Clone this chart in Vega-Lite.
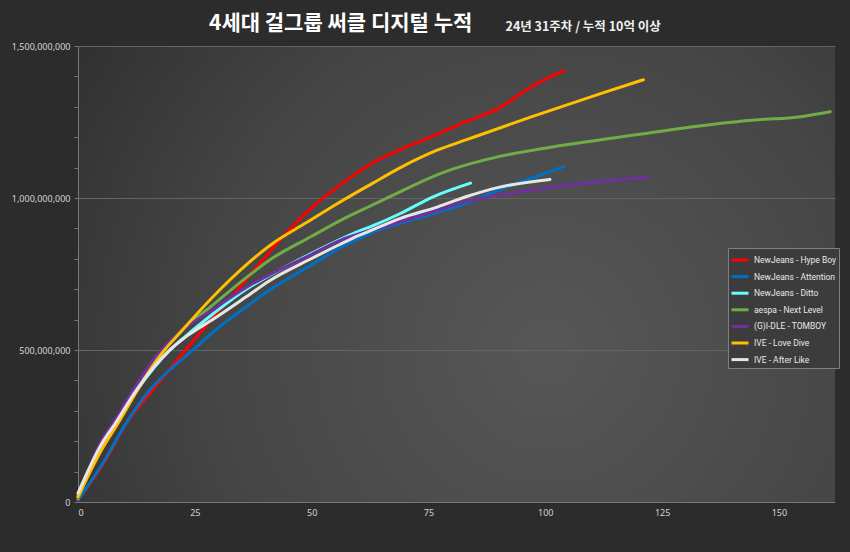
{
  "$schema": "https://vega.github.io/schema/vega-lite/v6.json",
  "width": 757,
  "height": 456,
  "autosize": {"type": "none"},
  "padding": {"left": 78, "top": 46, "right": 15, "bottom": 50},
  "background": "#2c2c2c",
  "title": {
    "text": "4세대 걸그룹 써클 디지털 누적",
    "anchor": "start",
    "frame": "group",
    "dx": 131,
    "offset": -14,
    "font": "Noto Sans CJK KR",
    "fontSize": 21,
    "fontWeight": "bold",
    "color": "#ffffff"
  },
  "config": {
    "view": {
      "stroke": null,
      "fill": {
        "gradient": "radial",
        "x1": 0.62, "y1": 0.6, "r1": 0,
        "x2": 0.62, "y2": 0.6, "r2": 0.75,
        "stops": [
          {"offset": 0, "color": "#575757"},
          {"offset": 0.6, "color": "#454545"},
          {"offset": 1, "color": "#303030"}
        ]
      }
    },
    "axis": {
      "labelFont": "Noto Sans",
      "labelFontSize": 9,
      "labelColor": "#d4d4d4",
      "domainColor": "#777777",
      "tickColor": "#777777",
      "title": null
    },
    "legend": {
      "orient": "none",
      "legendX": 650,
      "legendY": 202,
      "strokeColor": "#808080",
      "fillColor": "#3c3c3c",
      "padding": 2,
      "labelFont": "Roboto",
      "labelFontSize": 8.5,
      "labelColor": "#e8e8e8",
      "symbolType": "stroke",
      "symbolStrokeWidth": 3,
      "symbolSize": 289,
      "rowPadding": 0.6,
      "labelOffset": 4
    }
  },
  "data": {
    "values": [
      {"song": "NewJeans - Hype Boy", "week": 0, "value": 7000000},
      {"song": "NewJeans - Hype Boy", "week": 6, "value": 140000000},
      {"song": "NewJeans - Hype Boy", "week": 10, "value": 250000000},
      {"song": "NewJeans - Hype Boy", "week": 16, "value": 368000000},
      {"song": "NewJeans - Hype Boy", "week": 23, "value": 500000000},
      {"song": "NewJeans - Hype Boy", "week": 29, "value": 609000000},
      {"song": "NewJeans - Hype Boy", "week": 36, "value": 732000000},
      {"song": "NewJeans - Hype Boy", "week": 43, "value": 858000000},
      {"song": "NewJeans - Hype Boy", "week": 50, "value": 968000000},
      {"song": "NewJeans - Hype Boy", "week": 57, "value": 1053000000},
      {"song": "NewJeans - Hype Boy", "week": 63, "value": 1115000000},
      {"song": "NewJeans - Hype Boy", "week": 70, "value": 1166000000},
      {"song": "NewJeans - Hype Boy", "week": 76, "value": 1204000000},
      {"song": "NewJeans - Hype Boy", "week": 83, "value": 1251000000},
      {"song": "NewJeans - Hype Boy", "week": 90, "value": 1295000000},
      {"song": "NewJeans - Hype Boy", "week": 97, "value": 1366000000},
      {"song": "NewJeans - Hype Boy", "week": 104, "value": 1419000000},

      {"song": "NewJeans - Attention", "week": 0, "value": 7000000},
      {"song": "NewJeans - Attention", "week": 6, "value": 145000000},
      {"song": "NewJeans - Attention", "week": 10, "value": 252000000},
      {"song": "NewJeans - Attention", "week": 15, "value": 362000000},
      {"song": "NewJeans - Attention", "week": 20, "value": 440000000},
      {"song": "NewJeans - Attention", "week": 25, "value": 505000000},
      {"song": "NewJeans - Attention", "week": 29, "value": 560000000},
      {"song": "NewJeans - Attention", "week": 36, "value": 642000000},
      {"song": "NewJeans - Attention", "week": 41, "value": 697000000},
      {"song": "NewJeans - Attention", "week": 50, "value": 780000000},
      {"song": "NewJeans - Attention", "week": 56, "value": 835000000},
      {"song": "NewJeans - Attention", "week": 60, "value": 865000000},
      {"song": "NewJeans - Attention", "week": 63, "value": 887000000},
      {"song": "NewJeans - Attention", "week": 69, "value": 917000000},
      {"song": "NewJeans - Attention", "week": 76, "value": 949000000},
      {"song": "NewJeans - Attention", "week": 83, "value": 982000000},
      {"song": "NewJeans - Attention", "week": 90, "value": 1026000000},
      {"song": "NewJeans - Attention", "week": 97, "value": 1065000000},
      {"song": "NewJeans - Attention", "week": 104, "value": 1103000000},

      {"song": "NewJeans - Ditto", "week": 0, "value": 20000000},
      {"song": "NewJeans - Ditto", "week": 5, "value": 185000000},
      {"song": "NewJeans - Ditto", "week": 8, "value": 258000000},
      {"song": "NewJeans - Ditto", "week": 12.5, "value": 365000000},
      {"song": "NewJeans - Ditto", "week": 19.7, "value": 500000000},
      {"song": "NewJeans - Ditto", "week": 23, "value": 545000000},
      {"song": "NewJeans - Ditto", "week": 29, "value": 620000000},
      {"song": "NewJeans - Ditto", "week": 36, "value": 700000000},
      {"song": "NewJeans - Ditto", "week": 41, "value": 745000000},
      {"song": "NewJeans - Ditto", "week": 50, "value": 818000000},
      {"song": "NewJeans - Ditto", "week": 60, "value": 890000000},
      {"song": "NewJeans - Ditto", "week": 63, "value": 908000000},
      {"song": "NewJeans - Ditto", "week": 69, "value": 949000000},
      {"song": "NewJeans - Ditto", "week": 76, "value": 1004000000},
      {"song": "NewJeans - Ditto", "week": 84, "value": 1049000000},

      {"song": "aespa - Next Level", "week": 0, "value": 10000000},
      {"song": "aespa - Next Level", "week": 5, "value": 185000000},
      {"song": "aespa - Next Level", "week": 8, "value": 262000000},
      {"song": "aespa - Next Level", "week": 12.5, "value": 370000000},
      {"song": "aespa - Next Level", "week": 18, "value": 495000000},
      {"song": "aespa - Next Level", "week": 22, "value": 560000000},
      {"song": "aespa - Next Level", "week": 29, "value": 650000000},
      {"song": "aespa - Next Level", "week": 36, "value": 738000000},
      {"song": "aespa - Next Level", "week": 41, "value": 796000000},
      {"song": "aespa - Next Level", "week": 50, "value": 874000000},
      {"song": "aespa - Next Level", "week": 56, "value": 925000000},
      {"song": "aespa - Next Level", "week": 63, "value": 977000000},
      {"song": "aespa - Next Level", "week": 69, "value": 1021000000},
      {"song": "aespa - Next Level", "week": 77, "value": 1077000000},
      {"song": "aespa - Next Level", "week": 80, "value": 1094000000},
      {"song": "aespa - Next Level", "week": 90, "value": 1136000000},
      {"song": "aespa - Next Level", "week": 104, "value": 1174000000},
      {"song": "aespa - Next Level", "week": 119, "value": 1207000000},
      {"song": "aespa - Next Level", "week": 133, "value": 1237000000},
      {"song": "aespa - Next Level", "week": 147, "value": 1259000000},
      {"song": "aespa - Next Level", "week": 152, "value": 1263000000},
      {"song": "aespa - Next Level", "week": 161, "value": 1284000000},

      {"song": "(G)I-DLE - TOMBOY", "week": 0, "value": 15000000},
      {"song": "(G)I-DLE - TOMBOY", "week": 5, "value": 200000000},
      {"song": "(G)I-DLE - TOMBOY", "week": 8, "value": 270000000},
      {"song": "(G)I-DLE - TOMBOY", "week": 12, "value": 372000000},
      {"song": "(G)I-DLE - TOMBOY", "week": 17, "value": 485000000},
      {"song": "(G)I-DLE - TOMBOY", "week": 23, "value": 572000000},
      {"song": "(G)I-DLE - TOMBOY", "week": 29, "value": 635000000},
      {"song": "(G)I-DLE - TOMBOY", "week": 36, "value": 706000000},
      {"song": "(G)I-DLE - TOMBOY", "week": 42, "value": 755000000},
      {"song": "(G)I-DLE - TOMBOY", "week": 49, "value": 807000000},
      {"song": "(G)I-DLE - TOMBOY", "week": 56, "value": 860000000},
      {"song": "(G)I-DLE - TOMBOY", "week": 63, "value": 895000000},
      {"song": "(G)I-DLE - TOMBOY", "week": 70, "value": 927000000},
      {"song": "(G)I-DLE - TOMBOY", "week": 77, "value": 960000000},
      {"song": "(G)I-DLE - TOMBOY", "week": 83, "value": 988000000},
      {"song": "(G)I-DLE - TOMBOY", "week": 97, "value": 1026000000},
      {"song": "(G)I-DLE - TOMBOY", "week": 112, "value": 1054000000},
      {"song": "(G)I-DLE - TOMBOY", "week": 122, "value": 1068000000},

      {"song": "IVE - Love Dive", "week": 0, "value": 17000000},
      {"song": "IVE - Love Dive", "week": 5, "value": 170000000},
      {"song": "IVE - Love Dive", "week": 9, "value": 270000000},
      {"song": "IVE - Love Dive", "week": 13, "value": 375000000},
      {"song": "IVE - Love Dive", "week": 18, "value": 490000000},
      {"song": "IVE - Love Dive", "week": 22, "value": 560000000},
      {"song": "IVE - Love Dive", "week": 29, "value": 677000000},
      {"song": "IVE - Love Dive", "week": 36, "value": 780000000},
      {"song": "IVE - Love Dive", "week": 41, "value": 843000000},
      {"song": "IVE - Love Dive", "week": 49, "value": 920000000},
      {"song": "IVE - Love Dive", "week": 56, "value": 986000000},
      {"song": "IVE - Love Dive", "week": 63, "value": 1048000000},
      {"song": "IVE - Love Dive", "week": 69, "value": 1100000000},
      {"song": "IVE - Love Dive", "week": 77, "value": 1158000000},
      {"song": "IVE - Love Dive", "week": 83, "value": 1191000000},
      {"song": "IVE - Love Dive", "week": 97, "value": 1267000000},
      {"song": "IVE - Love Dive", "week": 112, "value": 1344000000},
      {"song": "IVE - Love Dive", "week": 121, "value": 1389000000},

      {"song": "IVE - After Like", "week": 0, "value": 29000000},
      {"song": "IVE - After Like", "week": 5, "value": 190000000},
      {"song": "IVE - After Like", "week": 8, "value": 259000000},
      {"song": "IVE - After Like", "week": 12.5, "value": 368000000},
      {"song": "IVE - After Like", "week": 19.5, "value": 498000000},
      {"song": "IVE - After Like", "week": 23.5, "value": 548000000},
      {"song": "IVE - After Like", "week": 29, "value": 602000000},
      {"song": "IVE - After Like", "week": 36, "value": 675000000},
      {"song": "IVE - After Like", "week": 41, "value": 728000000},
      {"song": "IVE - After Like", "week": 50, "value": 801000000},
      {"song": "IVE - After Like", "week": 56, "value": 847000000},
      {"song": "IVE - After Like", "week": 60, "value": 876000000},
      {"song": "IVE - After Like", "week": 63, "value": 895000000},
      {"song": "IVE - After Like", "week": 69, "value": 933000000},
      {"song": "IVE - After Like", "week": 77, "value": 971000000},
      {"song": "IVE - After Like", "week": 83, "value": 1004000000},
      {"song": "IVE - After Like", "week": 90, "value": 1035000000},
      {"song": "IVE - After Like", "week": 101, "value": 1061000000}
    ]
  },
  "layer": [
    {
      "mark": {"type": "rule", "opacity": 0},
      "encoding": {
        "x": {
          "datum": 0,
          "type": "quantitative",
          "axis": {
            "orient": "top",
            "labels": false,
            "ticks": false,
            "domain": false,
            "grid": false,
            "title": "24년 31주차 / 누적 10억 이상",
            "titleFont": "Noto Sans CJK KR",
            "titleFontSize": 12.5,
            "titleFontWeight": "bold",
            "titleColor": "#f0f0f0",
            "titleAnchor": "start",
            "titleAlign": "left",
            "titleBaseline": "alphabetic",
            "titleX": 427,
            "titleY": -16
          }
        }
      }
    },
    {
      "mark": {"type": "line", "strokeWidth": 3, "interpolate": "monotone", "strokeCap": "round"},
      "encoding": {
        "x": {
          "field": "week",
          "type": "quantitative",
          "scale": {"domain": [0, 162], "nice": false, "zero": true},
          "axis": {"values": [0, 25, 50, 75, 100, 125, 150], "ticks": false, "grid": false, "labelPadding": 6, "format": "d"}
        },
        "y": {
          "field": "value",
          "type": "quantitative",
          "scale": {"domain": [0, 1500000000], "nice": false},
          "axis": {
            "values": [0, 100000000, 200000000, 300000000, 400000000, 500000000, 600000000, 700000000, 800000000, 900000000, 1000000000, 1100000000, 1200000000, 1300000000, 1400000000, 1500000000],
            "labelExpr": "datum.value % 500000000 === 0 ? format(datum.value, ',') : ''",
            "grid": true,
            "gridColor": {"condition": {"test": "datum.value % 500000000 === 0 && datum.value > 0", "value": "#646464"}, "value": "transparent"},
            "gridWidth": 1,
            "tickSize": 4,
            "labelPadding": 4
          }
        },
        "color": {
          "field": "song",
          "type": "nominal",
          "title": null,
          "scale": {
            "domain": ["NewJeans - Hype Boy", "NewJeans - Attention", "NewJeans - Ditto", "aespa - Next Level", "(G)I-DLE - TOMBOY", "IVE - Love Dive", "IVE - After Like"],
            "range": ["#ff0000", "#0070c0", "#66ffff", "#70ad47", "#7030a0", "#ffc000", "#e6e6e6"]
          }
        },
        "order": {"field": "week", "type": "quantitative"}
      }
    }
  ],
  "resolve": {"axis": {"x": "independent"}}
}
